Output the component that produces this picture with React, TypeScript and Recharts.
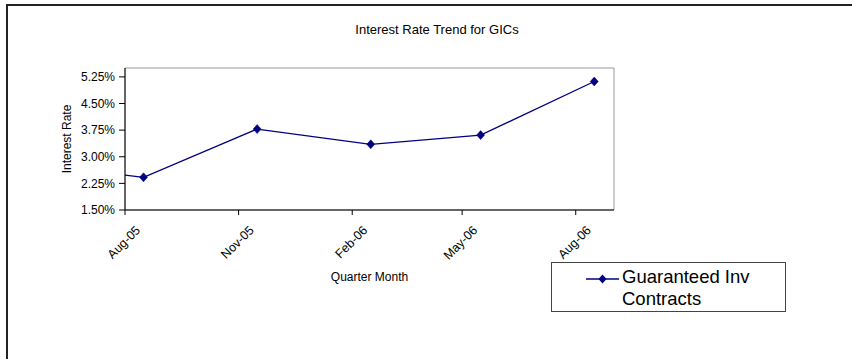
import React from 'react';
import { LineChart, Line, XAxis, YAxis, ReferenceArea, Legend } from 'recharts';

// quarterly GIC rates (%), dated mid-month; first point sits left of the visible window
const quarterDates = ['2005-05-16', '2005-08-16', '2005-11-16', '2006-02-16', '2006-05-16', '2006-08-16'];
const gicRates = [2.81, 2.42, 3.78, 3.35, 3.61, 5.12];

const tickDates = ['2005-08-01', '2005-11-01', '2006-02-01', '2006-05-01', '2006-08-01'];
const tickLabels = ['Aug-05', 'Nov-05', 'Feb-06', 'May-06', 'Aug-06'];
const rateTicks = [1.5, 2.25, 3, 3.75, 4.5, 5.25];
const dateRange = ['2005-08-01', '2006-09-01'];
const rateRange = [1.5, 5.5];

const seriesName = 'Guaranteed Inv Contracts';
const font = '"Liberation Sans", Arial, sans-serif';
const navy = '#000080';

const toTime = (d: string) => new Date(d).getTime();

const data = quarterDates.map((d, i) => ({ date: toTime(d), rate: gicRates[i] }));
const xTicks = tickDates.map(toTime);
const xDomain = dateRange.map(toTime);

const Diamond = (props: any) => {
  const { cx, cy } = props;
  if (cx == null || cy == null) return null;
  return (
    <polygon
      points={`${cx},${cy - 4.5} ${cx + 4},${cy} ${cx},${cy + 4.5} ${cx - 4},${cy}`}
      fill={navy}
      stroke={navy}
      strokeWidth={0.5}
    />
  );
};

const DateTick = (props: any) => {
  const { x, y, payload } = props;
  const idx = xTicks.indexOf(payload.value);
  const label = idx >= 0 ? tickLabels[idx] : '';
  const tx = x + 16;
  const ty = y + 16;
  return (
    <text
      x={tx}
      y={ty}
      transform={`rotate(-45, ${tx}, ${ty})`}
      textAnchor="end"
      fontFamily={font}
      fontSize={12.5}
      fill="#000"
    >
      {label}
    </text>
  );
};

const LegendBox = () => (
  <div
    style={{
      width: 233,
      height: 48,
      border: '1px solid #444',
      background: '#fff',
      fontFamily: font,
      fontSize: 18.5,
      lineHeight: '22px',
      position: 'relative',
      boxSizing: 'content-box',
    }}
  >
    <svg width={36} height={10} style={{ position: 'absolute', left: 34, top: 11 }}>
      <line x1={0} y1={5} x2={33} y2={5} stroke={navy} strokeWidth={1.3} />
      <polygon points="16.5,0.5 20.5,5 16.5,9.5 12.5,5" fill={navy} />
    </svg>
    <div style={{ position: 'absolute', left: 70, top: 3, color: '#000' }}>
      Guaranteed Inv
      <br />
      Contracts
    </div>
  </div>
);

export default function App() {
  return (
    <div
      style={{
        position: 'absolute',
        left: 0,
        top: 0,
        width: 852,
        height: 359,
        overflow: 'hidden',
        background: '#fff',
      }}
    >
      <div
        style={{
          position: 'absolute',
          left: 6,
          top: 4,
          width: 900,
          height: 400,
          borderTop: '2px solid #222',
          borderLeft: '2px solid #222',
        }}
      />
      <svg width={852} height={60} style={{ position: 'absolute', left: 0, top: 0 }}>
        <text x={437} y={34} textAnchor="middle" fontFamily={font} fontSize={13} fill="#000">
          Interest Rate Trend for GICs
        </text>
      </svg>
      <div style={{ position: 'absolute', left: 0, top: 0 }}>
        <LineChart
          width={852}
          height={359}
          data={data}
          margin={{ top: 68, right: 238, bottom: 79, left: 65 }}
        >
          <ReferenceArea
            x1={xDomain[0]}
            x2={xDomain[1]}
            y1={rateRange[0]}
            y2={rateRange[1]}
            fill="none"
            stroke="#999"
            strokeWidth={1}
            ifOverflow="visible"
          />
          <XAxis
            dataKey="date"
            type="number"
            scale="time"
            domain={xDomain}
            ticks={xTicks}
            allowDataOverflow
            height={70}
            tickSize={5}
            tickMargin={0}
            stroke="#000"
            tick={<DateTick />}
            label={{
              value: 'Quarter Month',
              position: 'insideBottom',
              offset: -1,
              fontFamily: font,
              fontSize: 12,
              fill: '#000',
            }}
          />
          <YAxis
            type="number"
            domain={rateRange}
            ticks={rateTicks}
            allowDataOverflow
            width={60}
            tickSize={6}
            tickMargin={4}
            stroke="#000"
            tickFormatter={(v: number) => `${v.toFixed(2)}%`}
            tick={{ fontFamily: font, fontSize: 12, fill: '#000' }}
            label={{
              value: 'Interest Rate',
              angle: -90,
              position: 'insideLeft',
              offset: 2,
              fontFamily: font,
              fontSize: 12,
              fill: '#000',
              style: { textAnchor: 'middle' },
            }}
          />
          <Line
            dataKey="rate"
            name={seriesName}
            stroke={navy}
            strokeWidth={1.3}
            dot={<Diamond />}
            activeDot={false}
            isAnimationActive={false}
          />
          <Legend
            layout="horizontal"
            verticalAlign="middle"
            align="center"
            content={<LegendBox />}
            wrapperStyle={{ left: 551, top: 262, width: 235, height: 50 }}
          />
        </LineChart>
      </div>
    </div>
  );
}
